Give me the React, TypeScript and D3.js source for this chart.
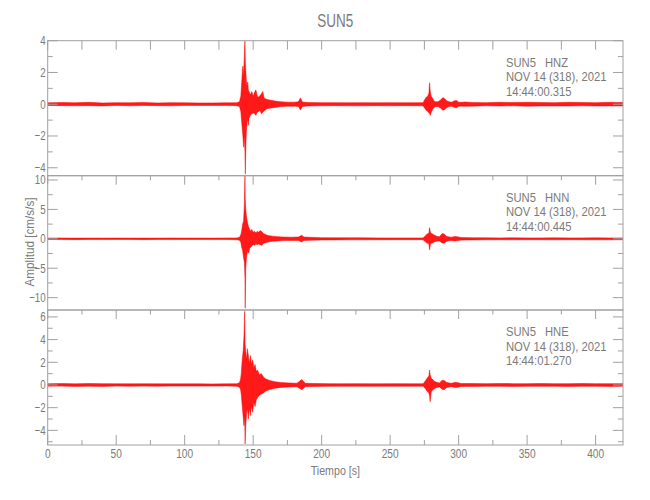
import React from "react";
import * as d3 from "d3";

// ---------- DATA ----------
const stationName = "SUN5";
const channels = ["HNZ", "HNN", "HNE"];
const dateLabel = "NOV 14 (318), 2021";
const startTimes = ["14:44:00.315", "14:44:00.445", "14:44:01.270"];
const xLabel = "Tiempo  [s]";
const yLabel = "Amplitud  [cm/s/s]";

const xDomain = [0, 420];
const xMajorTicks = [0, 50, 100, 150, 200, 250, 300, 350, 400];
const xMinorTicks = [25, 75, 125, 175, 225, 275, 325, 375];

const yDomains = [
  [-4.5, 4.0],
  [-12.1, 10.73],
  [-5.29, 6.61],
];
const yMajorTicks = [
  [-4, -2, 0, 2, 4],
  [-10, -5, 0, 5, 10],
  [-4, -2, 0, 2, 4, 6],
];
const yMinorTicks = [
  [-3, -1, 1, 3],
  [-7.5, -2.5, 2.5, 7.5],
  [-5, -3, -1, 1, 3, 5],
];

// envelope of each trace: [time s, upper, lower]
const hnzEnvelope = [
  [0, 0.09, -0.08], [10, 0.11, -0.09], [20, 0.09, -0.1], [30, 0.12, -0.09],
  [40, 0.08, -0.11], [50, 0.1, -0.08], [60, 0.09, -0.1], [70, 0.11, -0.08],
  [80, 0.08, -0.09], [90, 0.1, -0.1], [100, 0.09, -0.08], [110, 0.08, -0.08],
  [120, 0.08, -0.08], [130, 0.09, -0.08], [138, 0.09, -0.09], [140, 0.16, -0.15],
  [141, 0.5, -0.45], [141.5, 1.2, -1.0], [142, 1.9, -1.5], [142.5, 2.4, -2.0],
  [143, 1.7, -2.7], [143.5, 2.9, -1.9], [144, 4.0, -3.0], [144.3, 2.6, -4.4],
  [144.7, 2.0, -2.6], [145, 1.5, -1.8], [145.5, 1.1, -1.2], [146, 1.4, -0.9],
  [146.5, 0.9, -1.3], [147, 0.8, -0.9], [148, 0.6, -0.7], [149, 0.8, -0.6],
  [150, 0.5, -0.55], [151, 0.75, -0.6], [152, 0.9, -0.7], [153, 0.5, -0.5],
  [154, 0.45, -0.45], [155, 0.55, -0.4], [156, 0.65, -0.6], [157, 0.8, -0.5],
  [158, 0.4, -0.42], [160, 0.3, -0.28], [163, 0.25, -0.24], [166, 0.2, -0.2],
  [170, 0.16, -0.15], [175, 0.13, -0.13], [180, 0.13, -0.12], [183, 0.15, -0.14],
  [184.5, 0.4, -0.36], [186, 0.14, -0.14], [190, 0.11, -0.11], [200, 0.1, -0.1],
  [210, 0.1, -0.09], [220, 0.09, -0.1], [230, 0.1, -0.1], [240, 0.09, -0.09],
  [250, 0.1, -0.1], [260, 0.09, -0.09], [270, 0.1, -0.1], [274, 0.1, -0.1],
  [275.5, 0.33, -0.28], [276.5, 0.45, -0.4], [277.5, 0.5, -0.45], [278.3, 0.7, -0.55],
  [278.8, 1.35, -0.6], [279.3, 0.8, -0.7], [280, 0.5, -0.5], [281, 0.38, -0.33],
  [282, 0.2, -0.2], [283, 0.16, -0.16], [285, 0.15, -0.15], [287, 0.28, -0.26],
  [288.5, 0.42, -0.38], [290, 0.33, -0.33], [291.5, 0.2, -0.2], [293, 0.15, -0.15],
  [295, 0.13, -0.13], [297, 0.22, -0.2], [298.5, 0.23, -0.22], [300, 0.13, -0.13],
  [302, 0.12, -0.12], [305, 0.14, -0.13], [310, 0.11, -0.12], [320, 0.1, -0.1],
  [330, 0.12, -0.11], [340, 0.11, -0.1], [350, 0.12, -0.12], [360, 0.11, -0.11],
  [370, 0.1, -0.11], [380, 0.12, -0.11], [390, 0.11, -0.1], [400, 0.1, -0.11],
  [410, 0.12, -0.11], [420, 0.11, -0.11],
];

const hnnEnvelope = [
  [0, 0.13, -0.12], [10, 0.14, -0.12], [20, 0.12, -0.14], [30, 0.13, -0.12],
  [40, 0.12, -0.13], [50, 0.14, -0.12], [60, 0.12, -0.12], [70, 0.13, -0.14],
  [80, 0.12, -0.12], [90, 0.14, -0.13], [100, 0.12, -0.12], [110, 0.13, -0.12],
  [120, 0.12, -0.13], [130, 0.14, -0.12], [138, 0.15, -0.15], [140, 0.25, -0.25],
  [141, 0.7, -0.6], [141.7, 1.5, -1.5], [142.3, 2.5, -2.0], [143, 3.0, -3.2],
  [143.6, 6.0, -4.0], [144, 10.7, -6.5], [144.2, 7.0, -11.8], [144.6, 5.0, -5.0],
  [145, 4.0, -3.5], [145.5, 3.2, -2.6], [146, 2.6, -2.0], [146.7, 2.0, -2.4],
  [147.5, 1.6, -1.6], [148.3, 1.3, -1.4], [149, 1.6, -1.2], [150, 1.1, -1.0],
  [151, 1.3, -1.1], [152, 1.0, -0.9], [153, 1.3, -1.0], [154, 1.1, -0.9],
  [155, 1.4, -1.0], [156.3, 1.2, -1.1], [157.5, 0.9, -0.8], [159, 0.75, -0.65],
  [161, 0.55, -0.55], [164, 0.45, -0.42], [168, 0.36, -0.36], [172, 0.3, -0.3],
  [178, 0.28, -0.28], [183, 0.3, -0.3], [185.5, 0.6, -0.55], [187, 0.3, -0.3],
  [192, 0.25, -0.25], [200, 0.2, -0.2], [210, 0.18, -0.18], [220, 0.17, -0.17],
  [230, 0.17, -0.17], [240, 0.16, -0.16], [250, 0.15, -0.15], [260, 0.15, -0.15],
  [270, 0.15, -0.15], [274, 0.16, -0.16], [275.5, 0.45, -0.45], [277, 0.8, -0.7],
  [278.3, 1.0, -0.9], [278.8, 1.9, -1.9], [279.5, 1.0, -0.8], [280.5, 0.9, -0.75],
  [282, 0.65, -0.55], [284, 0.45, -0.4], [286, 0.35, -0.35], [288, 0.9, -0.7],
  [289.5, 0.8, -0.75], [291, 0.45, -0.45], [293, 0.33, -0.33], [295, 0.28, -0.28],
  [297, 0.4, -0.36], [299, 0.35, -0.33], [302, 0.22, -0.22], [310, 0.19, -0.19],
  [320, 0.17, -0.17], [330, 0.16, -0.16], [340, 0.17, -0.17], [350, 0.16, -0.16],
  [360, 0.16, -0.16], [370, 0.17, -0.17], [380, 0.16, -0.16], [390, 0.16, -0.16],
  [400, 0.17, -0.17], [410, 0.16, -0.16], [420, 0.16, -0.16],
];

const hneEnvelope = [
  [0, 0.11, -0.11], [10, 0.13, -0.1], [20, 0.1, -0.13], [30, 0.13, -0.11],
  [40, 0.12, -0.13], [50, 0.11, -0.1], [60, 0.1, -0.11], [70, 0.11, -0.1],
  [80, 0.1, -0.11], [90, 0.1, -0.1], [100, 0.1, -0.1], [110, 0.1, -0.1],
  [120, 0.09, -0.1], [130, 0.1, -0.09], [138, 0.11, -0.11], [140, 0.2, -0.2],
  [140.8, 0.5, -0.4], [141.3, 1.0, -0.8], [142, 2.2, -1.8], [142.7, 3.0, -2.8],
  [143.3, 4.3, -3.6], [143.8, 6.5, -2.6], [144.1, 3.6, -5.2], [144.6, 3.0, -3.6],
  [145.2, 2.2, -2.5], [145.8, 3.2, -2.0], [146.5, 2.6, -3.0], [147.2, 1.8, -2.0],
  [148, 2.6, -2.7], [148.8, 1.8, -1.8], [149.6, 2.2, -2.4], [150.5, 1.5, -1.5],
  [151.4, 1.8, -1.9], [152.3, 1.2, -1.3], [153.3, 1.3, -1.1], [154.5, 0.9, -0.9],
  [156, 1.0, -0.8], [157.5, 0.7, -0.7], [159, 0.55, -0.55], [162, 0.4, -0.4],
  [166, 0.28, -0.28], [170, 0.22, -0.22], [176, 0.18, -0.18], [182, 0.15, -0.15],
  [185.5, 0.48, -0.42], [188, 0.15, -0.15], [195, 0.13, -0.13], [205, 0.12, -0.12],
  [215, 0.11, -0.11], [225, 0.12, -0.11], [235, 0.11, -0.12], [245, 0.11, -0.11],
  [255, 0.12, -0.11], [265, 0.11, -0.11], [274, 0.11, -0.11], [275.5, 0.33, -0.28],
  [277, 0.6, -0.55], [278.3, 0.8, -0.7], [278.8, 1.32, -1.0], [279.2, 0.9, -1.47],
  [280, 0.6, -0.6], [281, 0.5, -0.45], [282.5, 0.3, -0.3], [284, 0.24, -0.22],
  [286, 0.18, -0.18], [288, 0.42, -0.38], [289.5, 0.4, -0.43], [291, 0.24, -0.24],
  [293, 0.18, -0.18], [295, 0.15, -0.15], [297.5, 0.24, -0.22], [299.5, 0.2, -0.2],
  [302, 0.13, -0.13], [310, 0.13, -0.13], [320, 0.12, -0.12], [330, 0.13, -0.12],
  [340, 0.12, -0.13], [350, 0.12, -0.12], [360, 0.13, -0.12], [370, 0.12, -0.12],
  [380, 0.12, -0.13], [390, 0.13, -0.12], [400, 0.12, -0.12], [410, 0.12, -0.13],
  [420, 0.12, -0.12],
];

const envelopes = [hnzEnvelope, hnnEnvelope, hneEnvelope];

// ---------- LAYOUT ----------
const W = 650;
const H = 500;
const plotLeft = 47.7;
const plotRight = 623;
const panelTops = [40.7, 175.7, 310];
const panelBottoms = [175.7, 310, 445];

const AXIS = "#a0a0a0";
const TEXT = "#7a7a7a";
const FONT = "'Liberation Sans', Arial, sans-serif";

function Txt({ x, y, size, sx, anchor = "start", rotate = 0, children }: any) {
  const tr = `translate(${x},${y})` + (rotate ? ` rotate(${rotate})` : "") + ` scale(${sx},1)`;
  return (
    <text transform={tr} fontSize={size} fontFamily={FONT} fill={TEXT} textAnchor={anchor}>
      {children}
    </text>
  );
}

const fmt = (v: number) => (v < 0 ? "\u2212" + Math.abs(v) : String(v));

export default function App() {
  const x = d3.scaleLinear().domain(xDomain).range([plotLeft, plotRight]);

  return (
    <svg
      width={W}
      height={H}
      style={{ position: "absolute", left: 0, top: 0, background: "#fff" }}
    >
      <rect x={0} y={0} width={W} height={H} fill="#fff" />
      {/* title */}
      <Txt x={(plotLeft + plotRight) / 2} y={27} size={18} sx={0.75} anchor="middle">
        {stationName}
      </Txt>

      {envelopes.map((env, i) => {
        const y = d3
          .scaleLinear()
          .domain(yDomains[i])
          .range([panelBottoms[i], panelTops[i]]);
        const area = d3
          .area<number[]>()
          .x((d) => x(d[0]))
          .y0((d) => y(d[2]))
          .y1((d) => y(d[1]));
        const top = panelTops[i];
        const bot = panelBottoms[i];
        const topTicksAllLong = i === 0;
        return (
          <g key={i}>
            <clipPath id={`clip${i}`}>
              <rect x={plotLeft} y={top} width={plotRight - plotLeft} height={bot - top} />
            </clipPath>
            <path
              d={area(env) || ""}
              fill="#ff0000"
              fillOpacity={0.9}
              stroke="#ff0000"
              strokeWidth={0.5}
              strokeLinejoin="round"
              clipPath={`url(#clip${i})`}
            />
            {/* frame */}
            <rect
              x={plotLeft}
              y={top}
              width={plotRight - plotLeft}
              height={bot - top}
              fill="none"
              stroke={AXIS}
              strokeWidth={1}
            />
            {/* top x ticks (pointing down) */}
            {xMajorTicks.map((t) => (
              <line key={"xt" + t} x1={x(t)} x2={x(t)} y1={top} y2={top + 9} stroke={AXIS} />
            ))}
            {xMinorTicks.map((t) => (
              <line
                key={"xtm" + t}
                x1={x(t)}
                x2={x(t)}
                y1={top}
                y2={top + (topTicksAllLong ? 9 : 4.5)}
                stroke={AXIS}
              />
            ))}
            {/* bottom x ticks only for last panel */}
            {i === 2 &&
              xMajorTicks.map((t) => (
                <line key={"xb" + t} x1={x(t)} x2={x(t)} y1={bot} y2={bot - 10} stroke={AXIS} />
              ))}
            {i === 2 &&
              xMinorTicks.map((t) => (
                <line key={"xbm" + t} x1={x(t)} x2={x(t)} y1={bot} y2={bot - 5} stroke={AXIS} />
              ))}
            {/* y ticks left and right */}
            {yMajorTicks[i].map((v) => (
              <g key={"ym" + v}>
                <line x1={plotLeft} x2={plotLeft + 10} y1={y(v)} y2={y(v)} stroke={AXIS} />
                <line x1={plotRight} x2={plotRight - 10} y1={y(v)} y2={y(v)} stroke={AXIS} />
                <Txt x={plotLeft - 2} y={y(v) + 4.5} size={13} sx={0.75} anchor="end">
                  {fmt(v)}
                </Txt>
              </g>
            ))}
            {yMinorTicks[i].map((v) => (
              <g key={"yn" + v}>
                <line x1={plotLeft} x2={plotLeft + 5} y1={y(v)} y2={y(v)} stroke={AXIS} />
                <line x1={plotRight} x2={plotRight - 5} y1={y(v)} y2={y(v)} stroke={AXIS} />
              </g>
            ))}
            {/* info text */}
            <Txt x={506} y={top + 26} size={12.5} sx={0.9}>
              {stationName}
            </Txt>
            <Txt x={545} y={top + 26} size={12.5} sx={0.9}>
              {channels[i]}
            </Txt>
            <Txt x={506} y={top + 40.5} size={12.5} sx={0.9}>
              {dateLabel}
            </Txt>
            <Txt x={506} y={top + 55} size={12.5} sx={0.9}>
              {startTimes[i]}
            </Txt>
          </g>
        );
      })}

      {/* x tick labels */}
      {xMajorTicks.map((t) => (
        <Txt key={"xl" + t} x={x(t)} y={458} size={13} sx={0.78} anchor="middle">
          {String(t)}
        </Txt>
      ))}
      <Txt x={(plotLeft + plotRight) / 2} y={475} size={13} sx={0.82} anchor="middle">
        {xLabel}
      </Txt>
      <Txt x={34} y={242} size={13} sx={0.9} anchor="middle" rotate={-90}>
        {yLabel}
      </Txt>
    </svg>
  );
}
